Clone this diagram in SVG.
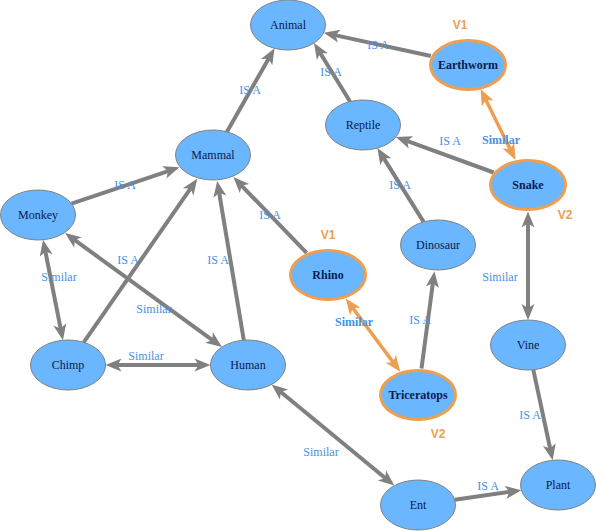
<svg xmlns="http://www.w3.org/2000/svg" width="596" height="531" viewBox="0 0 596 531">
<style>
.node ellipse{fill:#6ab7ff;stroke:#808080;stroke-width:1}
.node.hl ellipse{stroke:#ee9e4f;stroke-width:3}
.node text{font-family:"Liberation Serif",serif;font-size:12px;fill:#0b1a4d;text-anchor:middle}
.node.hl text{font-weight:bold}
.node.hl text.v{font-family:"Liberation Sans",sans-serif;font-size:12px;font-weight:bold;fill:#ee9e4f;text-anchor:middle}
.edge{fill:none;stroke:#808080;stroke-width:4}
.edge.hl{stroke:#ee9e4f;stroke-width:3.5}
.el{font-family:"Liberation Serif",serif;font-size:12px;fill:#4293e6;text-anchor:middle}
.el.b{font-weight:bold}
</style>
<defs>
<marker id="ag" markerUnits="userSpaceOnUse" viewBox="-9 -7 18 14" markerWidth="18" markerHeight="14" refX="0" refY="0" orient="auto-start-reverse">
<path d="M8,0 L-8,-6.5 L-4,0 L-8,6.5 Z" fill="#808080"/>
</marker>
<marker id="ao" markerUnits="userSpaceOnUse" viewBox="-9 -7 18 14" markerWidth="18" markerHeight="14" refX="0" refY="0" orient="auto-start-reverse">
<path d="M8,0 L-8,-6.5 L-4,0 L-8,6.5 Z" fill="#ee9e4f"/>
</marker>
</defs>
<g id="connectors">
<path class="edge" d="M226.4,132.7 L270.6,55.2" marker-end="url(#ag)"/>
<path class="edge" d="M350,101.5 L318.2,49.8" marker-end="url(#ag)"/>
<path class="edge" d="M430.8,56 L331.5,34.4" marker-end="url(#ag)"/>
<path class="edge hl" d="M484.1,96.3 L511.9,152.7" marker-start="url(#ao)" marker-end="url(#ao)"/>
<path class="edge" d="M493.7,172.5 L403.4,139.7" marker-end="url(#ag)"/>
<path class="edge" d="M423.6,221.9 L381.6,154.9" marker-end="url(#ag)"/>
<path class="edge" d="M71.5,203.7 L171.9,169.9" marker-end="url(#ag)"/>
<path class="edge" d="M83.7,342.3 L192.7,185.3" marker-end="url(#ag)"/>
<path class="edge" d="M243.8,340.1 L218.5,188.8" marker-end="url(#ag)"/>
<path class="edge" d="M306.6,252.9 L238.9,182.8" marker-end="url(#ag)"/>
<path class="edge" d="M44.6,247.6 L61.4,332.4" marker-start="url(#ag)" marker-end="url(#ag)"/>
<path class="edge" d="M71.5,237.7 L215.5,342.3" marker-start="url(#ag)" marker-end="url(#ag)"/>
<path class="edge" d="M113.5,365 L202.5,365" marker-start="url(#ag)" marker-end="url(#ag)"/>
<path class="edge hl" d="M350.5,305 L395.5,365.4" marker-start="url(#ao)" marker-end="url(#ao)"/>
<path class="edge" d="M421.5,368.6 L433.4,279.3" marker-end="url(#ag)"/>
<path class="edge" d="M528,219.5 L528,312" marker-start="url(#ag)" marker-end="url(#ag)"/>
<path class="edge" d="M533.3,369.7 L551,452.5" marker-end="url(#ag)"/>
<path class="edge" d="M277.8,389.5 L388.2,480.5" marker-start="url(#ag)" marker-end="url(#ag)"/>
<path class="edge" d="M454.7,499.8 L513.4,491.3" marker-end="url(#ag)"/>
<text class="el" x="250" y="94">IS A</text>
<text class="el" x="331" y="76">IS A</text>
<text class="el" x="378" y="49">IS A</text>
<text class="el b" x="501" y="144">Similar</text>
<text class="el" x="450" y="145">IS A</text>
<text class="el" x="400" y="189">IS A</text>
<text class="el" x="125" y="189">IS A</text>
<text class="el" x="128" y="264">IS A</text>
<text class="el" x="218" y="264">IS A</text>
<text class="el" x="270" y="219">IS A</text>
<text class="el" x="59" y="281">Similar</text>
<text class="el" x="154" y="313">Similar</text>
<text class="el" x="146" y="360">Similar</text>
<text class="el b" x="354" y="326">Similar</text>
<text class="el" x="420" y="324">IS A</text>
<text class="el" x="500" y="281">Similar</text>
<text class="el" x="530" y="419">IS A</text>
<text class="el" x="321" y="456">Similar</text>
<text class="el" x="488" y="490">IS A</text>
</g>
<g id="animal" class="node"><ellipse cx="288" cy="25" rx="37.5" ry="25"/><text x="288" y="29">Animal</text></g>
<g id="earthworm" class="node hl"><ellipse cx="468" cy="65" rx="37.5" ry="24.5"/><text x="468" y="69">Earthworm</text><text class="v" x="460" y="29">V1</text></g>
<g id="reptile" class="node"><ellipse cx="363" cy="125" rx="37.5" ry="25"/><text x="363" y="129">Reptile</text></g>
<g id="mammal" class="node"><ellipse cx="213" cy="155" rx="37.5" ry="25"/><text x="213" y="159">Mammal</text></g>
<g id="snake" class="node hl"><ellipse cx="528" cy="185" rx="37.5" ry="24.5"/><text x="528" y="189">Snake</text><text class="v" x="565" y="219">V2</text></g>
<g id="monkey" class="node"><ellipse cx="38" cy="215" rx="37.5" ry="25"/><text x="38" y="219">Monkey</text></g>
<g id="dinosaur" class="node"><ellipse cx="438" cy="245" rx="37.5" ry="25"/><text x="438" y="249">Dinosaur</text></g>
<g id="rhino" class="node hl"><ellipse cx="328" cy="275" rx="37.5" ry="24.5"/><text x="328" y="279">Rhino</text><text class="v" x="328" y="239">V1</text></g>
<g id="vine" class="node"><ellipse cx="528" cy="345" rx="37.5" ry="25"/><text x="528" y="349">Vine</text></g>
<g id="chimp" class="node"><ellipse cx="68" cy="365" rx="37.5" ry="25"/><text x="68" y="369">Chimp</text></g>
<g id="human" class="node"><ellipse cx="248" cy="365" rx="37.5" ry="25"/><text x="248" y="369">Human</text></g>
<g id="triceratops" class="node hl"><ellipse cx="418" cy="395" rx="37.5" ry="24.5"/><text x="418" y="399">Triceratops</text><text class="v" x="438" y="438">V2</text></g>
<g id="plant" class="node"><ellipse cx="558" cy="485" rx="37.5" ry="25"/><text x="558" y="489">Plant</text></g>
<g id="ent" class="node"><ellipse cx="418" cy="505" rx="37.5" ry="25"/><text x="418" y="509">Ent</text></g>
</svg>
